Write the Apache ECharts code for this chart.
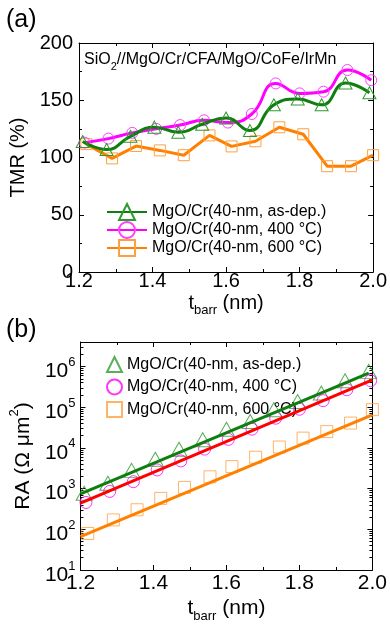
<!DOCTYPE html>
<html>
<head>
<meta charset="utf-8">
<script src="https://cdn.jsdelivr.net/npm/echarts@6/dist/echarts.min.js"></script>
<style>
html,body{margin:0;padding:0;background:#fff;}
#c{width:390px;height:628px;}
</style>
</head>
<body>
<div id="c"></div>
<script>
const FONT = '"Liberation Sans", Arial, Helvetica, sans-serif';

// ---- Panel (a): TMR (%) vs t_barr (nm) ----
const tAsDep = [1.21, 1.275, 1.34, 1.405, 1.47, 1.535, 1.6, 1.665, 1.73, 1.795, 1.86, 1.925, 1.99];
const t400   = [1.215, 1.28, 1.345, 1.41, 1.475, 1.54, 1.605, 1.67, 1.735, 1.80, 1.865, 1.93, 1.995];
const t600   = [1.22, 1.29, 1.355, 1.42, 1.485, 1.555, 1.615, 1.68, 1.745, 1.81, 1.875, 1.94, 2.0];
const tmrAsDep = [114, 107, 118.5, 126.5, 122, 129, 134.5, 123.5, 146, 151, 146, 165, 156.5];
const tmr400   = [113, 116.5, 121.5, 125, 128.3, 132.5, 130.5, 138, 164.7, 156, 157.5, 176.4, 167.5];
const tmr600   = [111.7, 99.2, 110, 106.2, 102, 119.3, 109.7, 114.2, 126.4, 120.3, 92.4, 92.4, 102];

// ---- Panel (b): RA (Ohm um^2) vs t_barr (nm) ----
const raAsDep = [770, 1350, 2800, 5250, 9300, 15800, 28800, 44700, 87000, 138000, 224000, 447000, 759000];
const ra400   = [457, 851, 1480, 2880, 4790, 9330, 16200, 28800, 53700, 89100, 145000, 269000, 447000];
const ra600   = [79, 170, 302, 575, 1070, 1950, 3470, 5890, 10500, 17400, 25100, 40700, 87100];
// fitted lines (end points)
const fitTAsDep = [1.2, 1.99];
const fitAsDep  = [741, 692000];
const fitT      = [1.2, 2.0];
const fit400    = [437, 468000];
const fit600    = [66, 64600];

const names = ['MgO/Cr(40-nm, as-dep.)', 'MgO/Cr(40-nm, 400 °C)', 'MgO/Cr(40-nm, 600 °C)'];
const namesB = names.map(n => n + ' ');

const zip = (xs, ys) => xs.map((x, i) => [x, ys[i]]);

// minor tick positions of the log axis (2..9 x 10^n)
const raMinor = [];
for (let e = 1; e <= 6; e++) for (let m = 2; m <= 9; m++) { const v = m * Math.pow(10, e); if (v <= 4e6) raMinor.push(v); }

const cG = '#0e7f0e', cG2 = '#2f9a2f', cM = '#ff00ff', cM2 = '#ff3cff', cO = '#ff8000', cO2 = '#ffa040', cR = '#ff0000';
const black = '#000';

function xAx(grid, pos, show, fs, margin, gap, subPad) {
  return {
    type: 'value', gridIndex: grid, position: pos, min: 1.2, max: 2.0, interval: 0.2,
    axisLine: { show: true, onZero: false, lineStyle: { color: black, width: 1 } },
    axisTick: { show: true, inside: true, length: 5, lineStyle: { color: black } },
    minorTick: { show: true, splitNumber: 2, length: 3, lineStyle: { color: black } },
    splitLine: { show: false }, minorSplitLine: { show: false },
    axisLabel: { show: show, color: black, fontSize: fs, fontFamily: FONT, margin: margin, formatter: v => v.toFixed(1) },
    name: show ? '{a|t}{s|barr}{a| (nm)}' : '',
    nameLocation: 'middle', nameGap: gap,
    nameTextStyle: {
      rich: {
        a: { fontSize: fs, fontFamily: FONT, color: black, lineHeight: fs, verticalAlign: 'top' },
        s: { fontSize: 13, fontFamily: FONT, color: black, lineHeight: 13, verticalAlign: 'top', padding: [subPad, 0, 0, 0] }
      }
    }
  };
}

const option = {
  animation: false,
  backgroundColor: '#fff',
  grid: [
    { left: 79, top: 43, width: 296, height: 229, containLabel: false },
    { left: 79, top: 342, width: 296, height: 228, containLabel: false }
  ],
  xAxis: [
    xAx(0, 'bottom', true, 20, -1, 21, 11),
    xAx(0, 'top', false, 20, 0, 0, 0),
    xAx(1, 'bottom', true, 21, 3, 28, 12),
    xAx(1, 'top', false, 21, 0, 0, 0)
  ],
  yAxis: [
    {
      type: 'value', gridIndex: 0, position: 'left', min: 0, max: 200, interval: 50,
      axisLine: { show: true, onZero: false, lineStyle: { color: black } },
      axisTick: { show: true, inside: true, length: 5, lineStyle: { color: black } },
      minorTick: { show: true, splitNumber: 2, length: 3, lineStyle: { color: black } },
      splitLine: { show: false },
      axisLabel: { color: black, fontSize: 20, fontFamily: FONT, margin: 6 },
      name: 'TMR (%)', nameLocation: 'middle', nameGap: 44,
      nameTextStyle: { fontSize: 20, fontFamily: FONT, color: black }
    },
    {
      type: 'value', gridIndex: 0, position: 'right', min: 0, max: 200, interval: 50,
      axisLine: { show: true, onZero: false, lineStyle: { color: black } },
      axisTick: { show: true, inside: true, length: 5, lineStyle: { color: black } },
      minorTick: { show: true, splitNumber: 2, length: 3, lineStyle: { color: black } },
      splitLine: { show: false }, axisLabel: { show: false }
    },
    {
      type: 'log', logBase: 10, gridIndex: 1, position: 'left', min: 10, max: 4e6,
      axisLine: { show: true, onZero: false, lineStyle: { color: black } },
      axisTick: { show: true, inside: true, length: 5, lineStyle: { color: black } },
      splitLine: { show: false },
      axisLabel: {
        color: black, margin: 5,
        formatter: v => {
          const e = Math.log10(v);
          if (Math.abs(e - Math.round(e)) > 1e-6) return '';
          return '{b|10}{s|' + Math.round(e) + '}';
        },
        rich: {
          b: { fontSize: 21, fontFamily: FONT, color: black, lineHeight: 21, verticalAlign: 'top', padding: [5, 0, 0, 0] },
          s: { fontSize: 13, fontFamily: FONT, color: black, lineHeight: 13, verticalAlign: 'top' }
        }
      },
      name: '{a|RA (Ω μm}{s|2}{a|)}', nameLocation: 'middle', nameGap: 44,
      nameTextStyle: {
        rich: {
          a: { fontSize: 21, fontFamily: FONT, color: black, lineHeight: 21, verticalAlign: 'top', padding: [5, 0, 0, 0] },
          s: { fontSize: 13, fontFamily: FONT, color: black, lineHeight: 13, verticalAlign: 'top' }
        }
      }
    },
    {
      type: 'log', logBase: 10, gridIndex: 1, position: 'right', min: 10, max: 4e6,
      axisLine: { show: true, onZero: false, lineStyle: { color: black } },
      axisTick: { show: true, inside: true, length: 5, lineStyle: { color: black } },
      splitLine: { show: false }, axisLabel: { show: false }
    },
    {
      type: 'log', logBase: 10, gridIndex: 1, position: 'left', min: 10, max: 4e6,
      axisLine: { show: false },
      axisTick: { show: true, inside: true, length: 3, customValues: raMinor, lineStyle: { color: black } },
      splitLine: { show: false }, axisLabel: { show: false }
    },
    {
      type: 'log', logBase: 10, gridIndex: 1, position: 'right', min: 10, max: 4e6,
      axisLine: { show: false },
      axisTick: { show: true, inside: true, length: 3, customValues: raMinor, lineStyle: { color: black } },
      splitLine: { show: false }, axisLabel: { show: false }
    }
  ],
  legend: [
    {
      data: names, orient: 'vertical', left: 101, top: 198, itemWidth: 40, itemHeight: 20, itemGap: 0,
      selectedMode: false, textStyle: { fontSize: 16, fontFamily: FONT, color: black }
    },
    {
      data: namesB, orient: 'vertical', left: 101, top: 351, itemWidth: 15, itemHeight: 15, itemGap: 5.5,
      selectedMode: false, textStyle: { fontSize: 16, fontFamily: FONT, color: black }
    }
  ],
  graphic: [
    { type: 'text', left: 6, top: 8, style: { text: '(a)', fill: black, font: '25px ' + FONT } },
    { type: 'text', left: 6, top: 318, style: { text: '(b)', fill: black, font: '25px ' + FONT } },
    {
      type: 'text', left: 84, top: 52,
      style: {
        text: '{n|SiO}{s|2}{n|//MgO/Cr/CFA/MgO/CoFe/IrMn}', fill: black,
        rich: {
          n: { fontSize: 16, fontFamily: FONT, fill: black, lineHeight: 18, verticalAlign: 'top' },
          s: { fontSize: 11, fontFamily: FONT, fill: black, lineHeight: 11, verticalAlign: 'top', padding: [9, 0, 0, 0] }
        }
      }
    }
  ],
  series: [
    {
      name: names[0], type: 'line', xAxisIndex: 0, yAxisIndex: 0, data: zip(tAsDep, tmrAsDep),
      smooth: 0.5, symbol: 'triangle', symbolSize: [13, 12], showAllSymbol: true,
      lineStyle: { color: cG, width: 3 }, itemStyle: { color: 'rgba(0,0,0,0)', borderColor: cG2, borderWidth: 1 }, z: 4
    },
    {
      name: names[1], type: 'line', xAxisIndex: 0, yAxisIndex: 0, data: zip(t400, tmr400),
      smooth: 0.5, symbol: 'circle', symbolSize: 11, showAllSymbol: true,
      lineStyle: { color: cM, width: 3 }, itemStyle: { color: 'rgba(0,0,0,0)', borderColor: cM2, borderWidth: 1 }, z: 3
    },
    {
      name: names[2], type: 'line', xAxisIndex: 0, yAxisIndex: 0, data: zip(t600, tmr600),
      smooth: false, symbol: 'rect', symbolSize: 11, showAllSymbol: true,
      lineStyle: { color: cO, width: 3 }, itemStyle: { color: 'rgba(0,0,0,0)', borderColor: cO2, borderWidth: 1 }, z: 2
    },
    {
      name: namesB[0], type: 'scatter', xAxisIndex: 2, yAxisIndex: 2, data: zip(tAsDep, raAsDep),
      symbol: 'triangle', symbolSize: [16, 14],
      itemStyle: { color: 'rgba(0,0,0,0)', borderColor: cG2, borderWidth: 1 }, z: 2
    },
    {
      name: namesB[1], type: 'scatter', xAxisIndex: 2, yAxisIndex: 2, data: zip(t400, ra400),
      symbol: 'circle', symbolSize: 12,
      itemStyle: { color: 'rgba(0,0,0,0)', borderColor: cM, borderWidth: 1 }, z: 2
    },
    {
      name: namesB[2], type: 'scatter', xAxisIndex: 2, yAxisIndex: 2, data: zip(t600, ra600),
      symbol: 'rect', symbolSize: 12,
      itemStyle: { color: 'rgba(0,0,0,0)', borderColor: cO2, borderWidth: 1 }, z: 2
    },
    {
      name: 'fit as-dep.', type: 'line', xAxisIndex: 2, yAxisIndex: 2, data: zip(fitTAsDep, fitAsDep),
      symbol: 'none', lineStyle: { color: cG, width: 3 }, z: 5
    },
    {
      name: 'fit 400', type: 'line', xAxisIndex: 2, yAxisIndex: 2, data: zip(fitT, fit400),
      symbol: 'none', lineStyle: { color: cR, width: 3 }, z: 5
    },
    {
      name: 'fit 600', type: 'line', xAxisIndex: 2, yAxisIndex: 2, data: zip(fitT, fit600),
      symbol: 'none', lineStyle: { color: cO, width: 3 }, z: 5
    }
  ]
};

const chart = echarts.init(document.getElementById('c'), null, { renderer: 'canvas' });
chart.setOption(option);
</script>
</body>
</html>
